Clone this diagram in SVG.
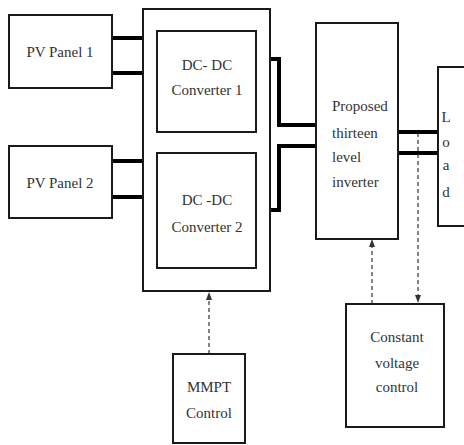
<svg xmlns="http://www.w3.org/2000/svg" width="464" height="445" viewBox="0 0 464 445">
<defs>
<style>
.box{fill:#fff;stroke:#1a1a1a;stroke-width:2}
.tc{text-anchor:middle}
.bus{fill:none;stroke:#000;stroke-width:4}
.dash{fill:none;stroke:#333;stroke-width:1.2;stroke-dasharray:4 3}
</style>
<marker id="ah" markerWidth="8" markerHeight="8" refX="4" refY="4" orient="auto" markerUnits="userSpaceOnUse">
<path d="M0,1 L8,4 L0,7 Z" fill="#333"/>
</marker>
</defs>
<rect width="464" height="445" fill="#fff"/>
<g id="connectors">
<path class="bus" d="M112,38 H143 M112,73 H143 M112,161 H143 M112,197 H143"/>
<path class="bus" d="M256,59 H279 V125 H316 M256,210 H279 V146 H316"/>
<path class="bus" d="M398,132 H438 M398,153 H438"/>
<path class="dash" d="M209,354 V296" marker-end="url(#ah)"/>
<path class="dash" d="M372,304 V243" marker-end="url(#ah)"/>
<path class="dash" d="M418,133 V299" marker-end="url(#ah)"/>
</g>
<g font-family="Liberation Serif, DejaVu Serif, serif" font-size="15" fill="#333">
<g id="pv1"><rect class="box" x="9" y="15" width="103" height="73"/><text class="tc" x="60" y="57">PV Panel 1</text></g>
<g id="pv2"><rect class="box" x="9" y="146" width="103" height="72"/><text class="tc" x="60" y="188">PV Panel 2</text></g>
<g id="outer"><rect class="box" x="143" y="9" width="127" height="282"/></g>
<g id="dc1"><rect class="box" x="157" y="31" width="99" height="101"/><text class="tc" x="207" y="70">DC- DC</text><text class="tc" x="207" y="95">Converter 1</text></g>
<g id="dc2"><rect class="box" x="157" y="153" width="99" height="115"/><text class="tc" x="207" y="205">DC -DC</text><text class="tc" x="207" y="232">Converter 2</text></g>
<g id="inverter"><rect class="box" x="316" y="23" width="82" height="216"/>
<text x="332" y="111">Proposed</text><text x="332" y="138">thirteen</text><text x="332" y="162">level</text><text x="332" y="187">inverter</text></g>
<g id="load"><rect class="box" x="438" y="67" width="30" height="159"/>
<text class="tc" x="446" y="122">L</text><text class="tc" x="446" y="147">o</text><text class="tc" x="446" y="170">a</text><text class="tc" x="446" y="197">d</text></g>
<g id="mmpt"><rect class="box" x="173" y="354" width="72" height="89"/><text class="tc" x="209" y="392">MMPT</text><text class="tc" x="209" y="418">Control</text></g>
<g id="cvc"><rect class="box" x="346" y="304" width="98" height="123"/><text class="tc" x="397" y="342">Constant</text><text class="tc" x="397" y="368">voltage</text><text class="tc" x="397" y="392">control</text></g>
</g>
</svg>
